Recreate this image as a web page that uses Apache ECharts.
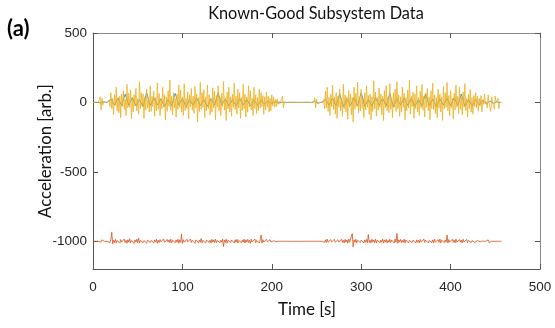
<!DOCTYPE html>
<html><head><meta charset="utf-8">
<script src="https://cdn.jsdelivr.net/npm/echarts@6/dist/echarts.min.js"></script>
<style>html,body{margin:0;padding:0;background:#fff}#c{width:555px;height:328px}</style>
</head><body><div id="c"></div>
<script>
// sampling grid (s)
const stepYellow = 1, stepOrange = 1, stepBlue = 4;
// Channel 3 (yellow), around 0 — one value per second
const yellowVals = [
 0,1,0,-1,1,0,1,-1,40,-55,
 30,-20,5,-3,2,-2,3,-2,15,-30,
 70,-45,30,-90,55,-25,110,-60,35,-75,
 45,-110,60,-30,85,-50,25,-95,130,-40,
 65,-35,90,-120,40,-70,55,-25,100,-60,
 30,-85,150,-45,70,-30,60,-115,40,-55,
 95,-40,25,-70,120,-65,45,-30,80,-100,
 35,-60,140,-50,65,-95,30,-45,110,-35,
 55,-125,40,-65,85,-30,160,-55,45,-90,
 70,-40,30,-105,60,-50,125,-35,90,-70,
 40,-95,135,-60,30,-45,75,-120,55,-30,
 100,-55,45,-80,115,-40,60,-140,35,-65,
 145,-50,70,-35,90,-110,40,-60,125,-45,
 55,-90,30,-70,105,-40,80,-125,50,-35,
 120,-60,40,-95,65,-30,150,-55,35,-130,
 75,-45,110,-70,40,-100,60,-35,140,-50,
 45,-85,95,-40,70,-115,35,-60,130,-45,
 60,-105,40,-70,120,-35,85,-55,30,-95,
 110,-45,55,-80,35,-60,95,-40,70,-30,
 50,-85,40,-55,75,-35,45,-70,30,-60,
 55,-25,40,-35,20,-30,25,-15,10,-8,
 5,-3,45,-40,3,-2,1,-1,2,-1,
 1,0,-1,1,0,-1,1,0,-1,0,
 0,1,-1,0,1,0,-1,1,0,-1,
 1,-1,0,1,-1,2,-2,1,35,-40,
 25,-10,3,-2,2,-3,4,-2,20,-45,
 80,-40,110,-65,35,-95,60,-30,125,-50,
 40,-85,70,-115,45,-35,95,-60,30,-100,
 130,-45,55,-70,40,-120,85,-35,60,-90,
 35,-140,110,-50,65,-30,145,-75,40,-60,
 95,-40,30,-110,70,-55,120,-35,50,-85,
 60,-125,40,-65,155,-45,75,-100,35,-55,
 105,-35,60,-90,45,-130,85,-40,120,-60,
 40,-75,135,-50,30,-110,70,-35,95,-65,
 150,-45,55,-100,40,-70,110,-35,65,-125,
 35,-60,90,-40,160,-85,45,-30,75,-115,
 60,-45,120,-70,35,-95,80,-40,130,-55,
 45,-105,65,-35,100,-60,40,-125,85,-45,
 140,-50,55,-80,35,-110,95,-40,60,-70,
 40,-130,115,-45,70,-35,145,-60,50,-95,
 85,-40,30,-120,65,-55,125,-35,45,-80,
 110,-50,40,-90,75,-35,135,-60,30,-105,
 60,-45,95,-70,35,-85,50,-30,70,-40,
 45,-60,30,-25,50,-70,20,-15,60,-10,
 5,-40,55,-3,2,-65,40,-2,3,-50,
 45,-2,1,30,-45,2,-1,0
];
// Channel 2 (orange), offset near -1000 — one value per second
const orangeVals = [
 -1000,-1000,-1001,-1000,-1000,-1000,-1001,-1000,-1000,-1006,
 -990,-1004,-1000,-1001,-1000,-1000,-1001,-1000,-1002,-1010,
 -985,-936,-1018,-992,-1010,-986,-1012,-994,-1008,-990,
 -1014,-988,-1006,-996,-1011,-984,-1009,-993,-1015,-990,
 -1007,-982,-1012,-995,-1004,-988,-1016,-991,-1006,-986,
 -1010,-978,-1013,-994,-1005,-989,-1011,-996,-1008,-985,
 -1014,-992,-1003,-987,-1010,-995,-1007,-983,-1012,-990,
 -1006,-986,-1015,-993,-1009,-988,-1004,-991,-1011,-984,
 -1008,-994,-1013,-987,-1006,-990,-1010,-985,-1012,-993,
 -1005,-988,-1011,-992,-1007,-986,-1014,-990,-1008,-948,
 -1016,-989,-1007,-994,-1012,-986,-1005,-991,-1013,-984,
 -1009,-993,-1006,-987,-1015,-990,-1004,-985,-1011,-992,
 -1007,-980,-1012,-994,-1008,-988,-1014,-991,-1005,-986,
 -1010,-993,-1013,-987,-1006,-990,-1009,-984,-1012,-995,
 -1004,-988,-1011,-992,-1007,-985,-1038,-990,-1009,-986,
 -1014,-993,-1006,-987,-1010,-991,-1005,-984,-1013,-990,
 -1008,-986,-1012,-994,-1004,-988,-1011,-992,-1007,-985,
 -1013,-990,-1006,-987,-1009,-993,-1015,-986,-1005,-991,
 -1010,-984,-1012,-995,-1007,-988,-1013,-990,-955,-1014,
 -988,-1006,-993,-1011,-986,-1004,-992,-1008,-989,-1005,
 -994,-1004,-997,-1003,-998,-1002,-999,-1001,-1000,-1001,
 -1000,-1000,-1001,-1000,-1000,-1001,-1000,-1000,-1000,-1000,
 -1000,-1000,-1000,-1001,-1000,-1000,-1000,-1000,-1001,-1000,
 -1000,-1000,-1001,-1000,-1000,-1000,-1000,-1001,-1000,-1000,
 -1000,-1000,-1000,-1001,-1000,-1000,-1000,-1000,-994,-1006,
 -1000,-1001,-1000,-1000,-1000,-1000,-1001,-1000,-996,-1008,
 -990,-1010,-985,-1007,-993,-1012,-988,-1005,-991,-1011,
 -986,-1008,-994,-1013,-989,-1006,-992,-1010,-985,-1009,
 -993,-1012,-987,-1006,-990,-1014,-984,-1008,-995,-1011,
 -945,-1042,-990,-1007,-986,-1012,-993,-1005,-988,-1010,
 -992,-1006,-985,-1013,-990,-1008,-987,-1011,-952,-1009,
 -994,-1012,-986,-1006,-991,-1010,-984,-1013,-993,-1005,
 -988,-1011,-992,-1007,-985,-1014,-990,-1006,-987,-1012,
 -993,-1008,-986,-1010,-991,-1005,-989,-1013,-984,-1007,
 -944,-1015,-990,-1006,-987,-1011,-993,-1008,-985,-1012,
 -991,-1005,-988,-1013,-994,-1007,-986,-1010,-992,-1006,
 -985,-1012,-990,-1008,-993,-1011,-987,-1005,-991,-1014,
 -984,-1009,-992,-1006,-988,-1012,-994,-1007,-986,-1010,
 -990,-1013,-985,-1006,-993,-1011,-989,-1008,-984,-1012,
 -992,-1005,-987,-1010,-991,-1007,-955,-1013,-988,-1006,
 -994,-1011,-986,-1008,-990,-1012,-985,-1006,-993,-1010,
 -988,-1007,-991,-1013,-986,-1005,-992,-1009,-987,-1011,
 -993,-1006,-989,-1010,-995,-1004,-991,-1008,-996,-1005,
 -994,-1007,-997,-1004,-999,-1003,-998,-1002,-1000,-1001,
 -1000,-1000,-990,-1010,-1000,-1001,-1000,-1000,-1000,-1001,
 -1000,-1000,-1000,-992,-1008,-1000,-1000,-1000
];
// Channel 1 (blue), around 0, mostly hidden under yellow
const blueVals = [
 0,1,-3,4,-1,25,-18,30,-22,60,
 -20,35,-25,18,-30,70,-22,32,-18,25,
 -28,20,-24,65,-19,27,-32,22,-20,30,
 -23,18,-28,26,-20,68,-18,24,-27,20,
 -25,28,-17,22,-26,20,-22,15,-14,10,
 -8,5,-3,2,-1,1,0,-1,1,0,
 2,-1,6,-5,2,22,-20,28,-24,62,
 -30,25,-20,33,-22,70,-28,20,-24,34,
 -21,28,-25,66,-32,25,-19,30,-22,27,
 -28,20,-24,64,-21,23,-30,26,-19,29,
 -23,32,-20,60,-27,21,-25,22,-17,18,
 -12,10,-6,4,-1
];
const xTicks = [0,100,200,300,400,500];
const yTicks = [-1000,-500,0,500];
const xRange = [0,500], yRange = [-1200,500];

function pairs(vals, step){ return vals.map((v,i)=>[i*step, v]); }

const axisCol = '#555555', labelCol = '#262626';
const tickFont = {fontFamily:'Liberation Sans, Arial', fontSize:13.5, color:labelCol};
const plain = v => String(v);

const chart = echarts.init(document.getElementById('c'), null, {renderer:'canvas'});
chart.setOption({
  animation:false,
  backgroundColor:'#fff',
  grid:{left:93, top:33, width:447, height:236, containLabel:false},
  xAxis:[
    {type:'value', min:xRange[0], max:xRange[1], interval:100, position:'bottom',
     axisLine:{show:true, onZero:false, lineStyle:{color:axisCol, width:1}},
     axisTick:{show:true, inside:true, length:5, lineStyle:{color:axisCol}},
     axisLabel:Object.assign({margin:11, customValues:xTicks, formatter:plain}, tickFont),
     splitLine:{show:false}},
    {type:'value', min:xRange[0], max:xRange[1], interval:100, position:'top',
     axisLine:{show:true, onZero:false, lineStyle:{color:'#8a8a8a', width:1}},
     axisTick:{show:true, inside:true, length:5, lineStyle:{color:axisCol}},
     axisLabel:{show:false}, splitLine:{show:false}}
  ],
  yAxis:[
    {type:'value', min:yRange[0], max:yRange[1], position:'left',
     axisLine:{show:true, onZero:false, lineStyle:{color:axisCol, width:1}},
     axisTick:{show:true, inside:true, length:5, customValues:yTicks, lineStyle:{color:axisCol}},
     axisLabel:Object.assign({margin:6, customValues:yTicks, formatter:plain}, tickFont),
     splitLine:{show:false}},
    {type:'value', min:yRange[0], max:yRange[1], position:'right',
     axisLine:{show:true, onZero:false, lineStyle:{color:'#8a8a8a', width:1}},
     axisTick:{show:true, inside:true, length:5, customValues:yTicks, lineStyle:{color:axisCol}},
     axisLabel:{show:false}, splitLine:{show:false}}
  ],
  series:[
    {type:'line', data:pairs(blueVals, stepBlue), showSymbol:false, symbol:'none',
     lineStyle:{color:'#0072BD', width:0.7}, z:2},
    {type:'line', data:pairs(orangeVals, stepOrange), showSymbol:false, symbol:'none',
     lineStyle:{color:'#D95319', width:0.8}, z:3},
    {type:'line', data:pairs(yellowVals, stepYellow), showSymbol:false, symbol:'none',
     lineStyle:{color:'#EDB120', width:0.8}, z:4}
  ],
  graphic:[
    {type:'text', x:316, y:14, style:{text:'Known-Good Subsystem Data', fontFamily:'Lato', fontSize:16.3, fill:'#111', textAlign:'center', textVerticalAlign:'middle'}},
    {type:'text', x:7, y:29, style:{text:'(a)', fontFamily:'Lato', fontWeight:'bold', fontSize:22, fill:'#000', textAlign:'left', textVerticalAlign:'middle'}},
    {type:'text', x:307, y:310, style:{text:'Time [s]', fontFamily:'Lato', fontSize:17, fill:'#111', textAlign:'center', textVerticalAlign:'middle'}},
    {type:'text', x:46, y:151, rotation:Math.PI/2, style:{text:'Acceleration [arb.]', fontFamily:'Lato', fontSize:16.8, fill:'#111', textAlign:'center', textVerticalAlign:'middle'}}
  ]
});
</script></body></html>
